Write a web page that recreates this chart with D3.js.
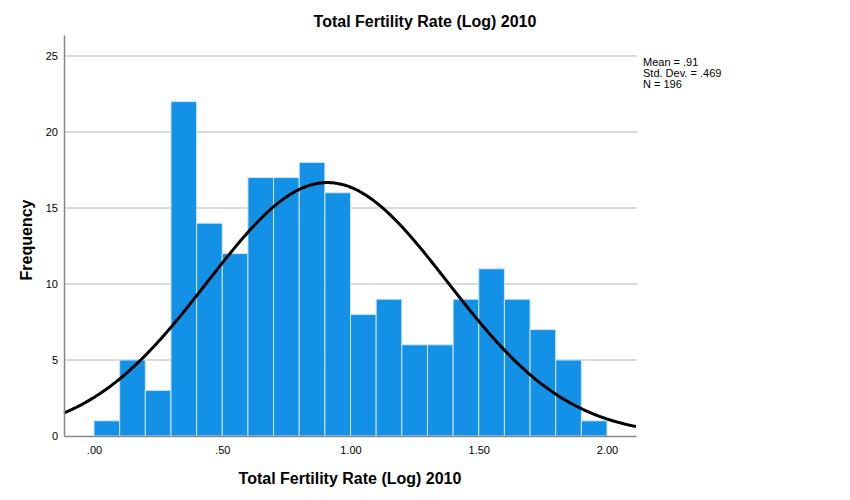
<!DOCTYPE html>
<html><head><meta charset="utf-8">
<script src="https://cdn.jsdelivr.net/npm/d3@7"></script>
<style>body{margin:0;background:#fff}svg{font-family:"Liberation Sans",Arial,sans-serif}</style>
</head><body>
<svg id="c" width="850" height="500"></svg>
<script>
const binStarts = [0.0,0.1,0.2,0.3,0.4,0.5,0.6,0.7,0.8,0.9,1.0,1.1,1.2,1.3,1.4,1.5,1.6,1.7,1.8,1.9];
const binWidth = 0.1;
const counts = [1,5,3,22,14,12,17,17,18,16,8,9,6,6,9,11,9,7,5,1];
const xTicks = [0,0.5,1,1.5,2];
const yTicks = [0,5,10,15,20,25];
const stats = {mean:0.91, sd:0.469, n:196};
const legendLines = ["Mean = .91","Std. Dev. = .469","N = 196"];
const title = "Total Fertility Rate (Log) 2010";

const svg = d3.select("#c");
const L=64,R=636,T=35,B=436;
const x = d3.scaleLinear().domain([-0.117,2.113]).range([L,R]);
const y = d3.scaleLinear().domain([0,26.38]).range([B,T]);

// gridlines
svg.append("g").selectAll("line").data(yTicks.filter(d=>d>0)).join("line")
  .attr("x1",L).attr("x2",R+1).attr("y1",d=>y(d)).attr("y2",d=>y(d))
  .attr("stroke","#b4b4b4").attr("stroke-width",1);

// bars
svg.append("g").selectAll("rect").data(counts).join("rect")
  .attr("x",(d,i)=>x(binStarts[i]))
  .attr("width",(d,i)=>x(binStarts[i]+binWidth)-x(binStarts[i]))
  .attr("y",d=>y(d)).attr("height",d=>B-y(d))
  .attr("fill","#1391e6").attr("stroke","#cfe6f7").attr("stroke-width",1);

// normal curve
const pts = d3.range(0,401).map(i=>{
  const v = x.domain()[0] + (x.domain()[1]-x.domain()[0])*i/400;
  const f = stats.n*binWidth/(stats.sd*Math.sqrt(2*Math.PI))*Math.exp(-0.5*((v-stats.mean)/stats.sd)**2);
  return [v,f];
});
svg.append("path").datum(pts)
  .attr("d",d3.line().x(d=>x(d[0])).y(d=>y(d[1])).curve(d3.curveBasis))
  .attr("fill","none").attr("stroke","#000").attr("stroke-width",3);

// axes
const xa = svg.append("g").attr("transform",`translate(0,${B})`)
  .call(d3.axisBottom(x).tickValues(xTicks).tickSize(0).tickPadding(10)
    .tickFormat(d=>d3.format(".2f")(d).replace(/^0\./,".")));
xa.select(".domain").attr("stroke","#888").attr("stroke-width",1.5);
xa.selectAll("text").attr("font-size",11).attr("fill","#000").attr("font-family","Liberation Sans, Arial, sans-serif");

const ya = svg.append("g").attr("transform",`translate(${L},0)`)
  .call(d3.axisLeft(y).tickValues(yTicks).tickSize(0).tickPadding(6));
ya.select(".domain").attr("stroke","#888").attr("stroke-width",1.5);
ya.selectAll("text").attr("font-size",11).attr("fill","#000").attr("font-family","Liberation Sans, Arial, sans-serif");

// titles
svg.append("text").attr("x",425).attr("y",27).attr("text-anchor","middle")
  .attr("font-size",16).attr("font-weight","bold").text(title);
svg.append("text").attr("x",350).attr("y",484).attr("text-anchor","middle")
  .attr("font-size",16).attr("font-weight","bold").text(title);
svg.append("text").attr("transform","translate(32,240) rotate(-90)").attr("text-anchor","middle")
  .attr("font-size",16).attr("font-weight","bold").text("Frequency");

// legend
svg.append("g").selectAll("text").data(legendLines).join("text")
  .attr("x",643).attr("y",(d,i)=>66+i*11).attr("font-size",11).text(d=>d);
</script>
</body></html>
